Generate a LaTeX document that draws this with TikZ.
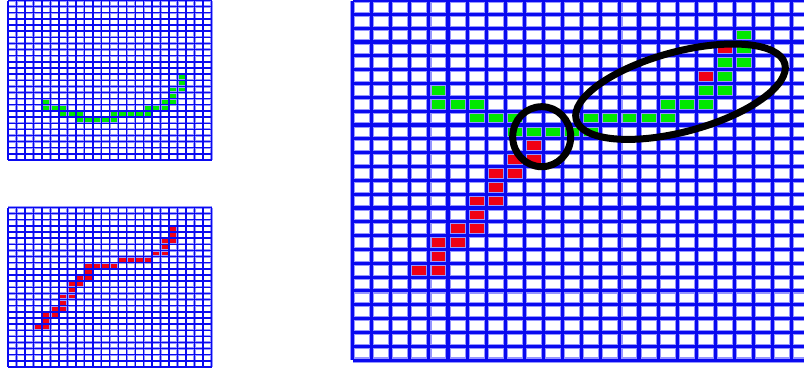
\documentclass[tikz,border=0pt]{standalone}
\definecolor{gridblue}{RGB}{10,10,240}
\definecolor{gridhalo}{RGB}{150,150,255}
\definecolor{cellgreen}{RGB}{0,232,0}
\definecolor{cellred}{RGB}{240,0,20}
\tikzset{
  halo/.style={draw=gridhalo},
  gridline/.style={draw=gridblue},
  ringline/.style={draw=black, line width=7}
}
\newcommand\pixgrid[6]{% x0, y0, w, h, core width, halo width
  \foreach \i in {0,...,24} \draw[halo, line width=#6] ({#1+\i*#3},{#2}) -- ({#1+\i*#3},{#2+26*#4});
  \foreach \j in {0,...,26} \draw[halo, line width=#6] ({#1},{#2+\j*#4}) -- ({#1+24*#3},{#2+\j*#4});
  \foreach \i in {0,...,24} \draw[gridline, line width=#5] ({#1+\i*#3},{#2}) -- ({#1+\i*#3},{#2+26*#4});
  \foreach \j in {0,...,26} \draw[gridline, line width=#5] ({#1},{#2+\j*#4}) -- ({#1+24*#3},{#2+\j*#4});
}
\def\greencells{20/12,20/13,19/14,20/14,19/15,4/16,18/16,19/16,4/17,5/17,6/17,16/17,17/17,18/17,6/18,7/18,8/18,12/18,13/18,14/18,15/18,16/18,8/19,9/19,10/19,11/19,12/19}
\def\redcells{19/3,19/4,18/5,19/5,18/6,17/7,18/7,13/8,14/8,15/8,16/8,9/9,10/9,11/9,12/9,9/10,8/11,9/11,7/12,8/12,7/13,6/14,7/14,6/15,5/16,6/16,4/17,5/17,4/18,3/19,4/19}
\begin{document}
\begin{tikzpicture}[x=1pt,y=-1pt]
\useasboundingbox (0,0) rectangle (804,373);
% small grid with the green curve
\foreach \c/\r in \greencells
  \fill[cellgreen] ({8+\c*8.48},{0.5+\r*6.135}) rectangle ++(8.48,6.135);
\pixgrid{8}{0.5}{8.48}{6.135}{1.4}{2.3}
% small grid with the red curve
\foreach \c/\r in \redcells
  \fill[cellred] ({8+\c*8.48},{207.5+\r*6.135}) rectangle ++(8.48,6.135);
\pixgrid{8}{207.5}{8.48}{6.135}{1.4}{2.3}
% large overlay grid
\begin{scope}
  \clip (345,-5) rectangle (804,370);
  \foreach \c/\r in \redcells
    \fill[cellred] ({352.5+\c*19.1},{0.5+\r*13.83}) rectangle ++(19.1,13.83);
  \foreach \c/\r in \greencells
    \fill[cellgreen] ({352.5+\c*19.1},{0.5+(\r-10)*13.83}) rectangle ++(19.1,13.83);
  \pixgrid{352.5}{0.5}{19.1}{13.83}{3.1}{5.2}
\end{scope}
% highlight rings
\draw[ringline] (541.7,136.7) ellipse [x radius=29, y radius=30];
\begin{scope}[shift={(680.5,91.7)}, rotate=15]
  \draw[ringline] (0,0) ellipse [x radius=108, y radius=40];
\end{scope}
\end{tikzpicture}
\end{document}
